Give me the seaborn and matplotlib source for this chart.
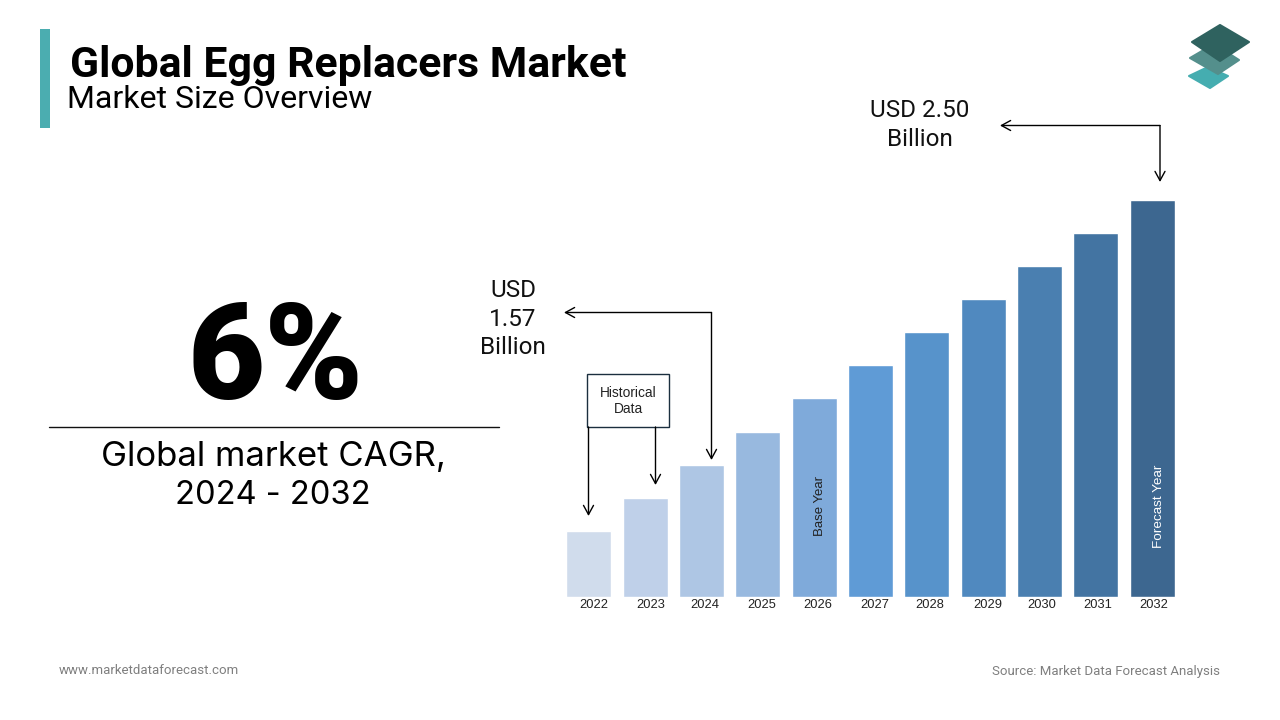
import matplotlib
matplotlib.use("Agg")
import matplotlib.pyplot as plt
from matplotlib.patches import Polygon, Rectangle
import pandas as pd
import seaborn as sns

years = ["2022", "2023", "2024", "2025", "2026", "2027", "2028", "2029", "2030", "2031", "2032"]
heights = [66, 99, 132, 165, 198, 231, 264, 297, 330, 363, 396]
bar_colors = ["#D0DCEC", "#BFD0E9", "#AEC6E4", "#98B9DF", "#7FAADA", "#5F9BD6",
              "#5793CB", "#5089BF", "#4A7FB0", "#4374A2", "#3D6790"]
label_shift = [5, 6, 3, 4, 4, 4, 3, 5, 2, 2, 2]

sns.set_theme(style="white")
plt.rcParams["font.family"] = ["Roboto", "DejaVu Sans"]

W, H = 1280, 720
fig = plt.figure(figsize=(W / 100, H / 100), dpi=100, facecolor="white")

# overlay in pixel coords for all the slide furniture
bg = fig.add_axes([0, 0, 1, 1], zorder=3)
bg.set_xlim(0, W)
bg.set_ylim(H, 0)
bg.axis("off")
bg.patch.set_alpha(0)

# bars
left, right, base, top = 560.6, 1180.2, 597, 200
ax = fig.add_axes([left / W, 1 - base / H, (right - left) / W, (base - top) / H], zorder=2)
df = pd.DataFrame({"year": years, "height": heights})
sns.barplot(data=df, x="year", y="height", hue="year", palette=bar_colors,
            legend=False, width=0.8, saturation=1, ax=ax)
ax.set_xlim(-0.5, 10.5)
ax.set_ylim(0, max(heights))
ax.axis("off")

for i, (yr, dx) in enumerate(zip(years, label_shift)):
    ax.annotate(yr, (i, 0), xytext=(dx * 0.72, -5.8), textcoords="offset points",
                ha="center", va="center", fontsize=9.3, color="#222222",
                family=["Liberation Sans"], annotation_clip=False)

ax.text(4.1, 91, "Base Year", rotation=90, ha="center", va="center",
        fontsize=9.5, color="#222222", family=["Liberation Sans"])
ax.text(10.12, 90, "Forecast Year", rotation=90, ha="center", va="center",
        fontsize=9.7, color="white", family=["Liberation Sans"])

# header
bg.add_patch(Rectangle((40, 29), 10, 99, color="#4BADB0", lw=0))
bg.text(70.5, 65, "Global Egg Replacers Market", fontsize=30.8, fontweight="bold",
        va="center", ha="left", color="black")
bg.text(67, 100, "Market Size Overview", fontsize=23, fontweight="normal",
        va="center", ha="left", color="black")

# logo
for pts, col in [
    ([(1208, 67), (1228, 76), (1210, 88), (1189, 76)], "#45ADB0"),
    ([(1214, 44), (1239, 60), (1218, 74), (1190, 58)], "#548F8C"),
    ([(1220, 25), (1249, 42), (1220, 61), (1192, 42)], "#2F625F"),
]:
    bg.add_patch(Polygon(pts, closed=True, facecolor=col, edgecolor=col, lw=1.5, joinstyle="round"))

# left panel
bg.text(276, 362, "6%", fontsize=96, fontweight="black", ha="center", va="center", color="black")
bg.plot([49, 499], [427, 427], color="#111111", lw=1)
bg.text(273, 457, "Global market CAGR,", fontsize=25, ha="center", va="center",
        color="black", family=["Inter", "DejaVu Sans"])
bg.text(273, 496, "2024 - 2032", fontsize=23.5, ha="center", va="center",
        color="black", family=["Inter", "DejaVu Sans"])

# callouts
arrow = dict(arrowstyle="->,head_length=0.55,head_width=0.3", color="black", lw=1,
             shrinkA=0, shrinkB=0)
bg.annotate("", xy=(1000, 125.5), xytext=(1160, 125.5), arrowprops=arrow)
bg.annotate("", xy=(1160, 182), xytext=(1160, 125.5), arrowprops=arrow)
bg.annotate("", xy=(564, 312.5), xytext=(711.5, 312.5), arrowprops=arrow)
bg.annotate("", xy=(711.5, 460), xytext=(711.5, 312.5), arrowprops=arrow)
bg.annotate("", xy=(588.5, 516), xytext=(588.5, 427), arrowprops=arrow)
bg.annotate("", xy=(655.5, 485), xytext=(655.5, 427), arrowprops=arrow)

bg.text(919.5, 125, "USD 2.50\nBillion", fontsize=17.5, ha="center", va="center",
        color="#111111", linespacing=1.33)
bg.text(513, 319, "USD\n1.57\nBillion", fontsize=17.5, ha="center", va="center",
        color="#111111", linespacing=1.33)

bg.add_patch(Rectangle((587, 374), 82, 53, facecolor="white", edgecolor="#1B2F3F", lw=1))
bg.text(628.5, 401, "Historical\nData", fontsize=9.9, ha="center", va="center",
        color="#222222", family=["Liberation Sans"], linespacing=1.25)

# footer
bg.text(59, 671, "www.marketdataforecast.com", fontsize=9.55, ha="left", va="center", color="#7F7F7F")
bg.text(1220, 671, "Source: Market Data Forecast Analysis", fontsize=9.55, ha="right", va="center", color="#7F7F7F")

fig.savefig("out.png", dpi=100)
